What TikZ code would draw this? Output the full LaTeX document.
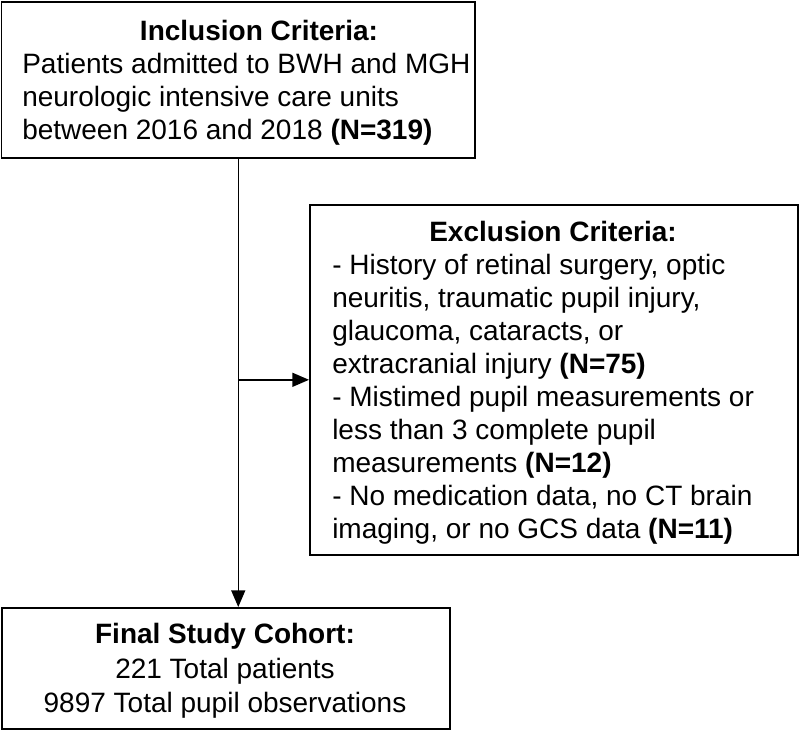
\documentclass[tikz,border=0pt]{standalone}
\usepackage{fontspec}
\setmainfont{Liberation Sans}
\usetikzlibrary{arrows.meta}
\begin{document}
\begin{tikzpicture}[x=0.75pt,y=-0.75pt,
  box/.style={draw=black, line width=1.2pt, fill=white, inner sep=0pt, anchor=north west},
  txt/.style={font=\fontsize{21}{24}\selectfont, inner sep=0pt, anchor=base west},
  ctr/.style={font=\fontsize{21}{24}\selectfont, inner sep=0pt, anchor=base},
  head/.style={font=\fontsize{21}{24}\selectfont\bfseries, inner sep=0pt, anchor=base},
  conn/.style={line width=1.1pt, -{Triangle[length=12.5pt,width=10.5pt]}}]
\useasboundingbox (0,0) rectangle (800,729);
% boxes
\node[box, minimum width=355pt, minimum height=117pt] (inc) at (0.8,1) {};
\node[box, minimum width=366pt, minimum height=262.5pt] (exc) at (309,204) {};
\node[box, minimum width=336pt, minimum height=90.75pt] (fin) at (1,607) {};
% inclusion text
\node[head] (incH) at (259,40) {Inclusion Criteria:};
\node[txt] (inc1) at (22,73) {Patients admitted to BWH and MGH};
\node[txt] (inc2) at (22,106) {neurologic intensive care units};
\node[txt] (inc3) at (22,139) {between 2016 and 2018 \textbf{(N=319)}};
% exclusion text
\node[head] (excH) at (553,241) {Exclusion Criteria:};
\node[txt] (exc1) at (332,274) {- History of retinal surgery, optic};
\node[txt] (exc2) at (332,307) {neuritis, traumatic pupil injury,};
\node[txt] (exc3) at (332,340) {glaucoma, cataracts, or};
\node[txt] (exc4) at (332,373) {extracranial injury \textbf{(N=75)}};
\node[txt] (exc5) at (332,406) {- Mistimed pupil measurements or};
\node[txt] (exc6) at (332,439) {less than 3 complete pupil};
\node[txt] (exc7) at (332,472) {measurements \textbf{(N=12)}};
\node[txt] (exc8) at (332,505) {- No medication data, no CT brain};
\node[txt] (exc9) at (332,538) {imaging, or no GCS data \textbf{(N=11)}};
% final text
\node[head] (finH) at (225,643) {Final Study Cohort:};
\node[ctr] (fin1) at (225,678) {221 Total patients};
\node[ctr] (fin2) at (225,712) {9897 Total pupil observations};
% connectors
\draw[conn] (inc.south) -- (inc.south |- fin.north);
\draw[conn] (inc.south |- exc.west) -- (exc.west);
\end{tikzpicture}
\end{document}
